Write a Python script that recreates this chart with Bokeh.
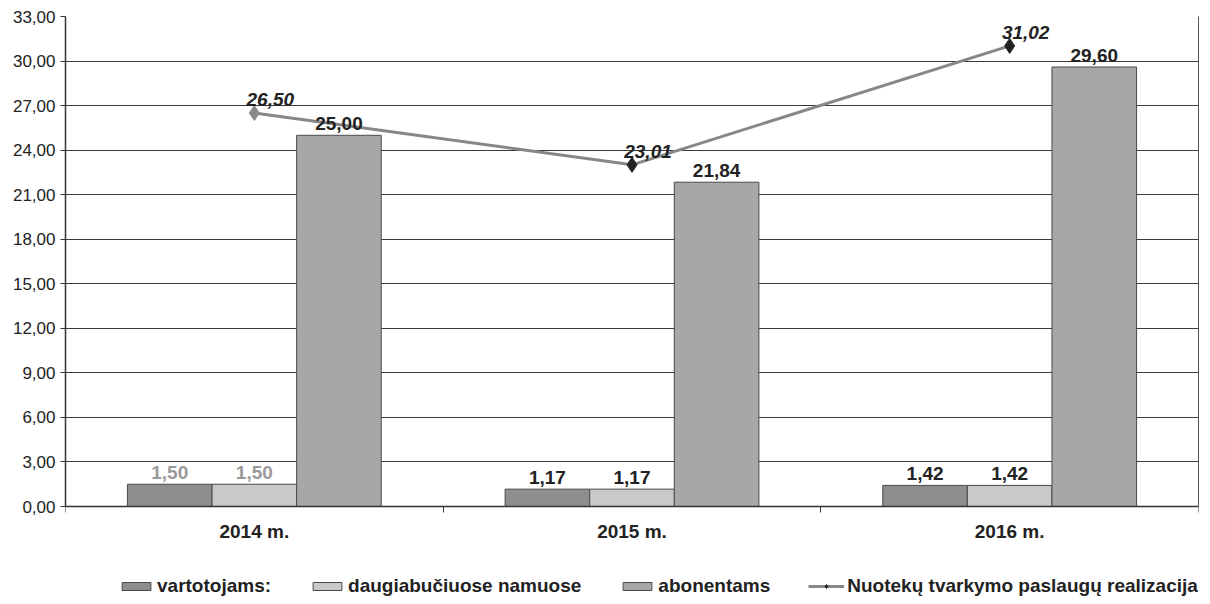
from bokeh.plotting import figure
from bokeh.models import (ColumnDataSource, FixedTicker, Range1d, Legend, LegendItem, LabelSet,
                          LinearAxis)
from bokeh.core.properties import value
from bokeh.embed import file_html
from bokeh.resources import INLINE

categories = ["2014 m.", "2015 m.", "2016 m."]
series_names = ["vartotojams:", "daugiabučiuose namuose", "abonentams"]
vartotojams = [1.50, 1.17, 1.42]
daugiabuciuose = [1.50, 1.17, 1.42]
abonentams = [25.00, 21.84, 29.60]
line_name = "Nuotekų tvarkymo paslaugų realizacija"
realizacija = [26.50, 23.01, 31.02]
y_ticks = [0, 3, 6, 9, 12, 15, 18, 21, 24, 27, 30, 33]

def fmt(v):
    return f"{v:.2f}".replace(".", ",")

FONT = "Liberation Sans"
W, H = 1205, 600
TOP, ZERO_PX = 16, 506          # pixel rows of the 33,00 and 0,00 gridlines
y_max = y_ticks[-1]
y_min = -y_max * (H - ZERO_PX) / (ZERO_PX - TOP)   # room below the axis for labels and legend

p = figure(width=W, height=H, output_backend="svg", toolbar_location=None,
           x_range=Range1d(0, 3), y_range=Range1d(y_min, y_max),
           min_border_left=65, min_border_right=7, min_border_top=TOP, min_border_bottom=0)
p.background_fill_color = "white"
p.border_fill_color = "white"
p.outline_line_color = None

centers = [i + 0.5 for i in range(len(categories))]
bw = 0.224
series = [vartotojams, daugiabuciuose, abonentams]
offsets = [-bw, 0.0, bw]
colors = ["#8e8e8e", "#c9c9c9", "#a7a7a7"]
label_colors = [["#9a9a9a", "#222222", "#222222"],
                ["#9a9a9a", "#222222", "#222222"],
                ["#222222", "#222222", "#222222"]]

bar_renderers = []
for s, vals in enumerate(series):
    xs = [c + offsets[s] for c in centers]
    src = ColumnDataSource(dict(x=xs, top=vals, lab=[fmt(v) for v in vals],
                                col=label_colors[s]))
    r = p.vbar(x="x", top="top", width=bw, bottom=0, source=src,
               fill_color=colors[s], line_color="#4a4a4a", line_width=1)
    bar_renderers.append(r)
    p.add_layout(LabelSet(x="x", y="top", text="lab", source=src, text_align="center",
                          text_baseline="bottom", y_offset=5, text_font=value(FONT),
                          text_font_size="19px", text_font_style="bold", text_color="col"))

lsrc = ColumnDataSource(dict(x=centers, y=realizacija, lab=[fmt(v) for v in realizacija],
                             mc=["#8a8a8a", "#222222", "#222222"]))
lr = p.line("x", "y", source=lsrc, line_color="#878787", line_width=3)
sr = p.scatter("x", "y", source=lsrc, marker="diamond", size=15, fill_color="mc", line_color="mc")
p.add_layout(LabelSet(x="x", y="y", text="lab", source=lsrc, text_align="center",
                      text_baseline="bottom", x_offset=16, y_offset=7, text_font=value(FONT),
                      text_font_size="19px", text_font_style="bold italic", text_color="#222222"))

# x axis pinned at y = 0
p.xaxis.fixed_location = 0
p.xaxis.ticker = FixedTicker(ticks=centers, minor_ticks=[0, 1, 2, 3])
p.xaxis.major_label_overrides = {c: cat for c, cat in zip(centers, categories)}
p.xaxis.major_tick_line_color = None
p.xaxis.major_tick_out = 6
p.xaxis.minor_tick_out = 6
p.xaxis.minor_tick_in = 0
p.xaxis.minor_tick_line_color = "#333333"
p.xaxis.axis_line_color = "#333333"
p.xaxis.axis_line_width = 1.5
p.xaxis.major_label_text_font = FONT
p.xaxis.major_label_text_font_size = "19px"
p.xaxis.major_label_text_font_style = "bold"
p.xaxis.major_label_text_color = "#222222"
p.xaxis.major_label_standoff = 8

p.yaxis.bounds = (0, y_max)
p.yaxis.ticker = FixedTicker(ticks=y_ticks)
p.yaxis.major_label_overrides = {t: fmt(t) for t in y_ticks}
p.yaxis.minor_tick_line_color = None
p.yaxis.major_tick_out = 5
p.yaxis.major_tick_in = 0
p.yaxis.axis_line_color = "#333333"
p.yaxis.axis_line_width = 1.5
p.yaxis.major_tick_line_color = "#333333"
p.yaxis.major_label_text_font = FONT
p.yaxis.major_label_text_font_size = "17px"
p.yaxis.major_label_text_color = "#222222"
p.yaxis.major_label_standoff = 5

# right border of the plot area
rax = LinearAxis(bounds=(0, y_max), ticker=FixedTicker(ticks=[]), axis_line_color="#555555",
                 major_tick_line_color=None, minor_tick_line_color=None,
                 major_label_standoff=0, major_tick_out=0)
p.add_layout(rax, "right")

p.xgrid.grid_line_color = None
p.ygrid.grid_line_color = "#3a3a3a"
p.ygrid.grid_line_width = 1.2

items = [LegendItem(label=series_names[i], renderers=[bar_renderers[i]]) for i in range(3)]
items.append(LegendItem(label=line_name, renderers=[lr, sr], index=1))
legend = Legend(items=items, orientation="horizontal", location=(118 - 65, 3),
                border_line_color=None, background_fill_alpha=0,
                label_text_font=FONT, label_text_font_size="19px",
                label_text_font_style="bold", label_text_color="#222222",
                glyph_width=36, glyph_height=10, spacing=38, label_standoff=3,
                padding=0, margin=0, label_height=20)
p.add_layout(legend, "center")

open("out.html", "w").write(file_html(p, INLINE))
